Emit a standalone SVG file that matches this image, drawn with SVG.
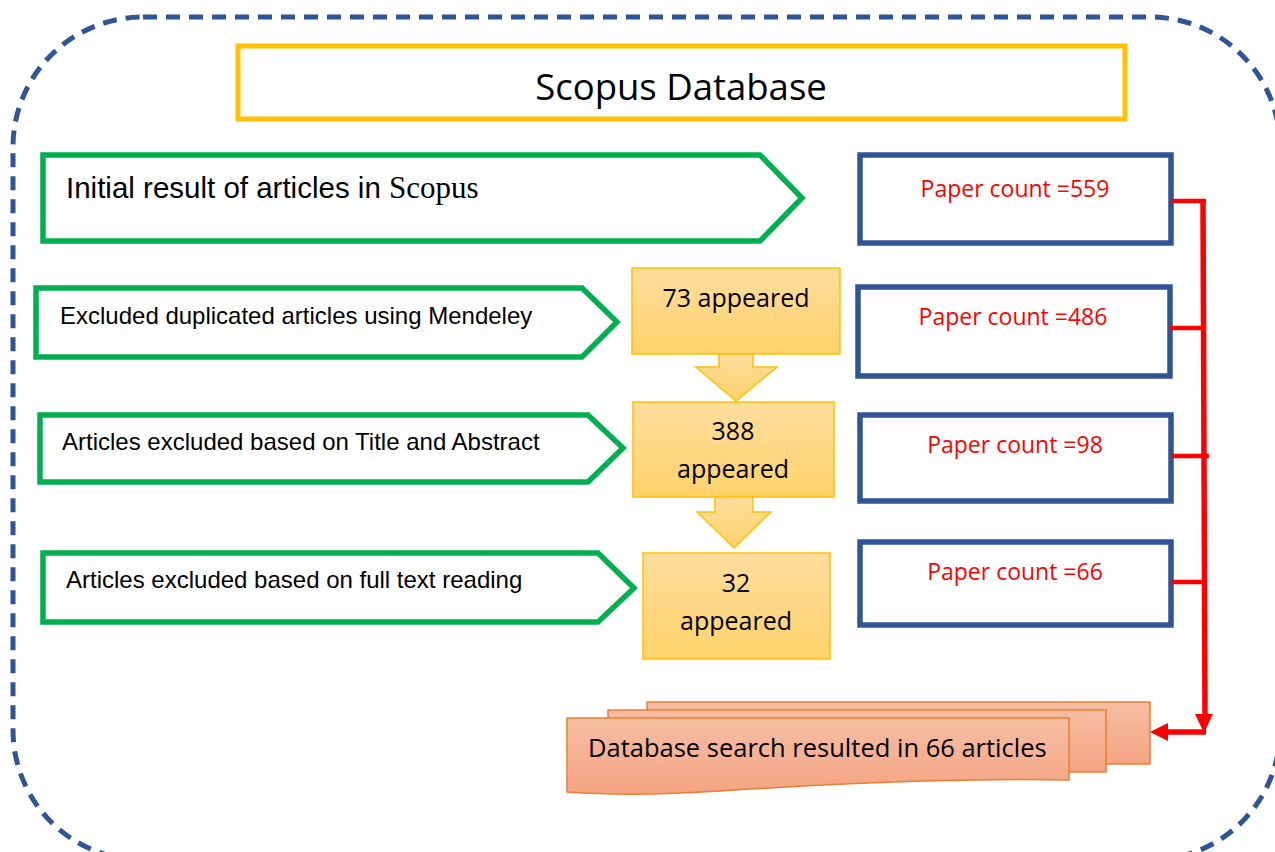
<svg xmlns="http://www.w3.org/2000/svg" width="1275" height="852" viewBox="0 0 1275 852">
<defs>
<linearGradient id="yg" x1="0" y1="0" x2="0" y2="1">
<stop offset="0" stop-color="#FFDD9E"/>
<stop offset="1" stop-color="#FFD26A"/>
</linearGradient>
<linearGradient id="og" x1="0" y1="0" x2="0" y2="1">
<stop offset="0" stop-color="#F6BEA4"/>
<stop offset="1" stop-color="#F4A482"/>
</linearGradient>
<style>
.frame{fill:none;stroke:#2F5597;stroke-width:5;stroke-dasharray:14 9}
.green{fill:#fff;stroke:#00B050;stroke-width:5.5}
.blue{fill:#fff;stroke:#2F5597;stroke-width:5.5}
.yel{fill:url(#yg);stroke:#FFC000;stroke-width:1.5}
.doc{fill:url(#og);stroke:#ED7D31;stroke-width:1.5}
.arial{font-family:"Liberation Sans",Arial,sans-serif;fill:#000}
.cal{font-family:"Open Sans","Noto Sans",sans-serif;fill:#000}
.red{font-family:"Open Sans","Noto Sans",sans-serif;fill:#FF0000;font-size:23px}
.conn{stroke:#FF0000;fill:none}
</style>
</defs>
<rect class="frame" x="13" y="17" width="1267" height="843" rx="130" ry="130"/>

<g id="title">
<rect x="238" y="46" width="887" height="73" fill="#fff" stroke="#FFC000" stroke-width="5"/>
<text class="cal" x="681" y="100" font-size="36.5" text-anchor="middle">Scopus Database</text>
</g>

<g id="step1">
<polygon class="green" points="43,155 760,155 802,198 760,241 43,241"/>
<text class="arial" x="66" y="198" font-size="29.5">Initial result of articles in <tspan font-family="'Liberation Serif','Times New Roman',serif" font-size="31">Scopus</tspan></text>
</g>
<g id="step2">
<polygon class="green" points="36,288 582,288 617,322 582,357 36,357"/>
<text class="arial" x="60" y="324" font-size="24">Excluded duplicated articles using Mendeley</text>
</g>
<g id="step3">
<polygon class="green" points="40,415 588,415 623,448 588,482 40,482"/>
<text class="arial" x="62" y="450" font-size="24">Articles excluded based on Title and Abstract</text>
</g>
<g id="step4">
<polygon class="green" points="43,553 598,553 634,588 598,622 43,622"/>
<text class="arial" x="66" y="588" font-size="24">Articles excluded based on full text reading</text>
</g>

<g id="appeared73">
<rect class="yel" x="632" y="268" width="208" height="86"/>
<text class="cal" x="736" y="307" font-size="25" text-anchor="middle">73 appeared</text>
</g>
<g id="arrowdown1">
<polygon class="yel" points="719,354 753,354 753,367 777,367 736,401 696,367 719,367"/>
</g>
<g id="appeared388">
<rect class="yel" x="633" y="402" width="201" height="95"/>
<text class="cal" x="733" y="440" font-size="25" text-anchor="middle">388</text>
<text class="cal" x="733" y="478" font-size="25" text-anchor="middle">appeared</text>
</g>
<g id="arrowdown2">
<polygon class="yel" points="715,497 753,497 753,512 771,512 734,548 697,512 715,512"/>
</g>
<g id="appeared32">
<rect class="yel" x="643" y="553" width="187" height="106"/>
<text class="cal" x="736" y="592" font-size="25" text-anchor="middle">32</text>
<text class="cal" x="736" y="630" font-size="25" text-anchor="middle">appeared</text>
</g>

<g id="count559">
<rect class="blue" x="860" y="155" width="311" height="88"/>
<text class="red" x="1015" y="197" text-anchor="middle">Paper count =559</text>
</g>
<g id="count486">
<rect class="blue" x="858" y="287" width="312" height="89"/>
<text class="red" x="1013" y="325" text-anchor="middle">Paper count =486</text>
</g>
<g id="count98">
<rect class="blue" x="860" y="415" width="311" height="86"/>
<text class="red" x="1015" y="453" text-anchor="middle">Paper count =98</text>
</g>
<g id="count66">
<rect class="blue" x="860" y="542" width="311" height="83"/>
<text class="red" x="1015" y="580" text-anchor="middle">Paper count =66</text>
</g>

<g id="result">
<rect class="doc" x="647" y="702" width="503" height="62"/>
<rect class="doc" x="608" y="710" width="498" height="62"/>
<path class="doc" d="M567,718 H1069 V780 C960,778 830,784 720,791 C660,795 610,795 567,792 Z"/>
<text class="cal" x="588" y="757" font-size="25.5">Database search resulted in 66 articles</text>
</g>

<g id="connectors">
<line class="conn" x1="1171" y1="201" x2="1206" y2="201" stroke-width="4.5"/>
<line class="conn" x1="1170" y1="328" x2="1204" y2="328" stroke-width="4.5"/>
<line class="conn" x1="1172" y1="456" x2="1209" y2="456" stroke-width="4.5"/>
<line class="conn" x1="1172" y1="582" x2="1204" y2="582" stroke-width="4.5"/>
<line class="conn" x1="1203" y1="199" x2="1205" y2="716" stroke-width="5.5"/>
<polygon points="1195,714 1213,714 1204,733" fill="#FF0000"/>
<line class="conn" x1="1206" y1="732" x2="1166" y2="732" stroke-width="5.5"/>
<polygon points="1168,723 1168,741 1150,732" fill="#FF0000"/>
</g>
</svg>
